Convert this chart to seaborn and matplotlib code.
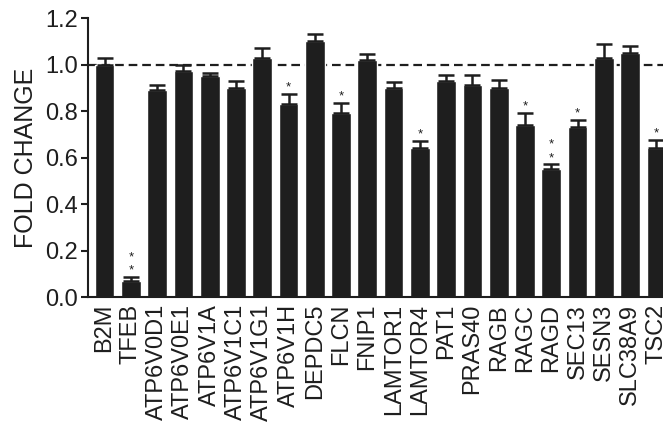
import numpy as np
import matplotlib
matplotlib.use("Agg")
import matplotlib.pyplot as plt
import seaborn as sns

# Gene panel (qPCR fold change relative to control)
genes = ["B2M", "TFEB", "ATP6V0D1", "ATP6V0E1", "ATP6V1A", "ATP6V1C1",
         "ATP6V1G1", "ATP6V1H", "DEPDC5", "FLCN", "FNIP1", "LAMTOR1",
         "LAMTOR4", "PAT1", "PRAS40", "RAGB", "RAGC", "RAGD", "SEC13",
         "SESN3", "SLC38A9", "TSC2"]
fold_change = [1.00, 0.07, 0.89, 0.97, 0.95, 0.90,
               1.03, 0.83, 1.10, 0.79, 1.02, 0.90,
               0.64, 0.93, 0.91, 0.90, 0.74, 0.55, 0.73,
               1.03, 1.05, 0.64]
sem = [0.03, 0.015, 0.02, 0.03, 0.015, 0.03,
       0.04, 0.045, 0.03, 0.045, 0.025, 0.025,
       0.03, 0.025, 0.045, 0.035, 0.05, 0.02, 0.03,
       0.06, 0.03, 0.035]
# number of significance stars above each bar
stars = [0, 2, 0, 0, 0, 0,
         0, 1, 0, 1, 0, 0,
         1, 0, 0, 0, 1, 2, 1,
         0, 0, 1]
y_ticks = [0.0, 0.2, 0.4, 0.6, 0.8, 1.0, 1.2]

sns.set_style("ticks")
plt.rcParams["font.family"] = ["Liberation Sans", "DejaVu Sans"]
ink = "#1e1e1e"

fig = plt.figure(figsize=(6.63, 4.30), dpi=100)
ax = fig.add_axes([0.1327, 0.3093, 0.8824, 0.6488])

ax.axhline(1.0, color=ink, lw=1.6, ls=(0, (3.9, 2.2)), zorder=0)

sns.barplot(x=genes, y=fold_change, color=ink, saturation=1, width=0.75,
            errorbar=None, ax=ax, zorder=2)

xs = np.arange(len(genes))
ax.errorbar(xs, fold_change, yerr=[np.zeros(len(sem)), sem], fmt="none",
            ecolor=ink, elinewidth=1.8, capsize=5.8, capthick=1.8, zorder=3)

for x, y, e, n in zip(xs, fold_change, sem, stars):
    for k in range(n):
        ax.annotate("*", xy=(x, y + e), xytext=(0, 2.5 + 9.5 * k),
                    textcoords="offset points", ha="center", va="baseline",
                    fontsize=9.5, color=ink)

ax.set_ylim(0, 1.2)
ax.set_xlim(-0.63, len(genes) - 1 + 0.63)
ax.set_yticks(y_ticks)
ax.set_yticklabels([f"{t:.1f}" for t in y_ticks])
ax.set_ylabel("FOLD CHANGE", fontsize=18, color=ink, labelpad=5)
ax.set_xlabel("")

ax.tick_params(axis="y", length=5, width=1.5, pad=2, labelsize=17,
               colors=ink)
ax.tick_params(axis="x", length=0, pad=5, labelsize=17, labelrotation=90,
               colors=ink)
for lab in ax.get_xticklabels():
    lab.set_ha("center")

sns.despine(ax=ax)
for side in ("left", "bottom"):
    ax.spines[side].set_linewidth(1.5)
    ax.spines[side].set_color(ink)

fig.savefig("out.png", dpi=100)
